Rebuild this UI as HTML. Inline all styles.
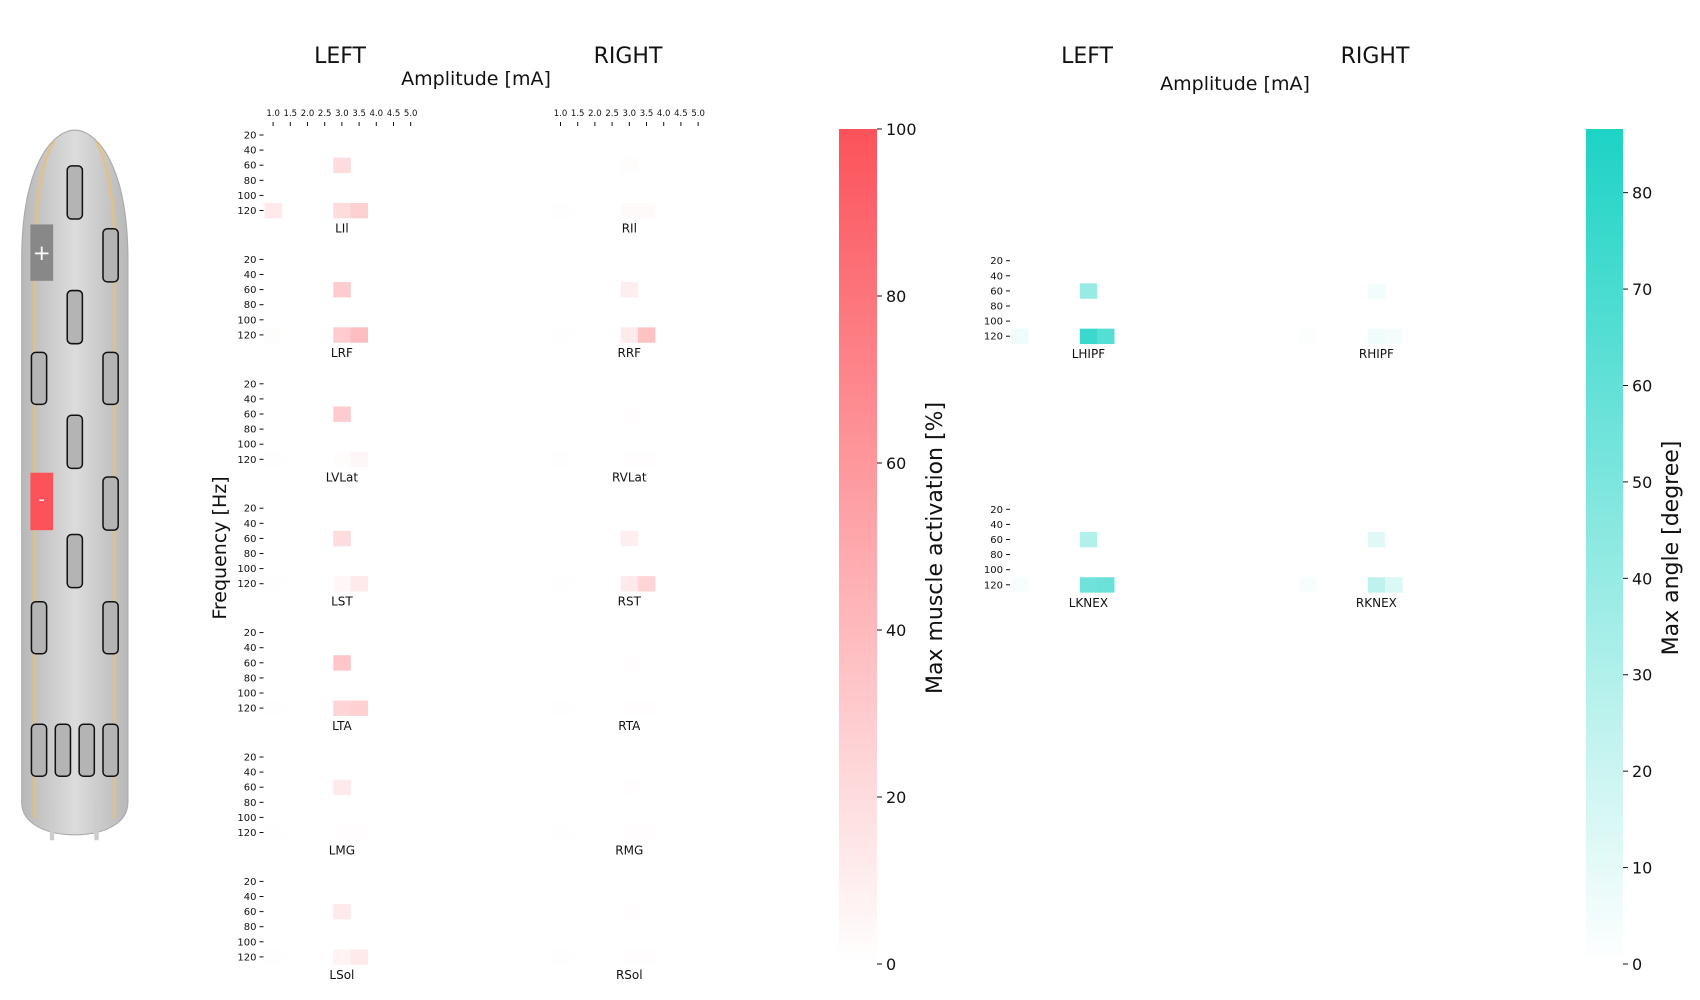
<!DOCTYPE html>
<html><head><meta charset="utf-8"><style>
html,body{margin:0;padding:0;background:#fff;}
svg{display:block;font-family:"DejaVu Sans","Liberation Sans",sans-serif;}
</style></head><body>
<svg id="fig" width="1700" height="1000" viewBox="0 0 1700 1000" xmlns="http://www.w3.org/2000/svg">
<defs>
<linearGradient id="gRed" x1="0" y1="1" x2="0" y2="0"><stop offset="0" stop-color="#ffffff"/><stop offset="1" stop-color="#fc525a"/></linearGradient>
<linearGradient id="gTeal" x1="0" y1="1" x2="0" y2="0"><stop offset="0" stop-color="#ffffff"/><stop offset="1" stop-color="#1dd3c5"/></linearGradient>
<linearGradient id="gBody" x1="0" y1="0" x2="1" y2="0"><stop offset="0" stop-color="#b8b8b8"/><stop offset="0.5" stop-color="#dcdcdc"/><stop offset="1" stop-color="#b8b8b8"/></linearGradient>
</defs>
<g id="electrode" transform="scale(1.0842)">
  <path d="M20,240 C20,150 50,120 69,120 C88,120 118,150 118,240 L118,740 C118,760 95,770 69,770 C43,770 20,760 20,740 Z" fill="url(#gBody)" stroke="#aaa"/>
  <path d="M32,240 C32,180 40,145 50,130" stroke="#e8c07a" stroke-width="2" fill="none"/>
  <path d="M32,240 L32,755" stroke="#e8c07a" stroke-width="1.5" fill="none"/>
  <path d="M106,240 C106,180 98,145 88,130" stroke="#e8c07a" stroke-width="2" fill="none"/>
  <path d="M106,240 L106,755" stroke="#e8c07a" stroke-width="1.5" fill="none"/>
  <rect x="46" y="740" width="4" height="35" fill="#ccc"/><rect x="87" y="740" width="4" height="35" fill="#ccc"/>
  <g fill="#b4b4b4" stroke="#111" stroke-width="1.4">
    <rect x="62" y="153" width="14" height="49" rx="4"/><rect x="62" y="268" width="14" height="49" rx="4"/>
    <rect x="62" y="383" width="14" height="49" rx="4"/><rect x="62" y="493" width="14" height="49" rx="4"/>
    <rect x="29" y="325" width="14" height="48" rx="4"/><rect x="29" y="555" width="14" height="48" rx="4"/>
    <rect x="29" y="668" width="14" height="48" rx="4"/><rect x="51" y="668" width="14" height="48" rx="4"/>
    <rect x="73" y="668" width="14" height="48" rx="4"/><rect x="95" y="668" width="14" height="48" rx="4"/>
    <rect x="95" y="211" width="14" height="49" rx="4"/><rect x="95" y="325" width="14" height="48" rx="4"/>
    <rect x="95" y="440" width="14" height="49" rx="4"/><rect x="95" y="555" width="14" height="48" rx="4"/>
  </g>
  <rect x="28" y="207" width="21" height="52" fill="#888"/>
  <text x="38.5" y="240" fill="#fff" font-size="20" text-anchor="middle">+</text>
  <rect x="28" y="436" width="21" height="53" fill="#fc525a"/>
  <text x="38.5" y="466" fill="#fff" font-size="16" text-anchor="middle">-</text>
</g>
<g id="texts" font-size="22" fill="#111">
  <text x="340" y="63" text-anchor="middle">LEFT</text>
  <text x="628" y="63" text-anchor="middle">RIGHT</text>
  <text x="476" y="85" text-anchor="middle" font-size="19">Amplitude [mA]</text>
  <text x="1087" y="63" text-anchor="middle">LEFT</text>
  <text x="1375" y="63" text-anchor="middle">RIGHT</text>
  <text x="1235" y="90" text-anchor="middle" font-size="19">Amplitude [mA]</text>
  <text transform="translate(226,548) rotate(-90)" text-anchor="middle" font-size="19">Frequency [Hz]</text>
  <text transform="translate(942,548) rotate(-90)" text-anchor="middle" font-size="22">Max muscle activation [%]</text>
  <text transform="translate(1678,548) rotate(-90)" text-anchor="middle" font-size="22">Max angle [degree]</text>
</g>
<g id="charts"></g>
</svg>
<script>
// ---- data ----
const amplitudes = ["1.0","1.5","2.0","2.5","3.0","3.5","4.0","4.5","5.0"];
const frequencies = ["20","40","60","80","100","120"];
const muscleNamesLeft = ["LIl","LRF","LVLat","LST","LTA","LMG","LSol"];
const muscleNamesRight = ["RIl","RRF","RVLat","RST","RTA","RMG","RSol"];
// values: [freqIdx, ampIdx, value]
const muscleLeft = [
 [[2,4,20],[5,0,13],[5,4,20],[5,5,27]],
 [[2,4,30],[5,0,2],[5,4,30],[5,5,38]],
 [[2,4,30],[5,0,1],[5,4,2],[5,5,5]],
 [[2,4,20],[5,0,1],[5,4,5],[5,5,12]],
 [[2,4,33],[5,0,1],[5,4,25],[5,5,27]],
 [[2,4,12],[5,0,1],[5,4,1],[5,5,1]],
 [[2,4,12],[5,0,1],[5,4,7],[5,5,12]]
];
const muscleRight = [
 [[2,4,2],[5,0,1],[5,4,3],[5,5,3]],
 [[2,4,10],[5,0,1],[5,4,12],[5,5,35]],
 [[2,4,1],[5,0,0.5],[5,4,1],[5,5,1]],
 [[2,4,10],[5,0,1],[5,4,12],[5,5,25]],
 [[2,4,1],[5,0,1],[5,4,1],[5,5,1]],
 [[2,4,1],[5,0,1],[5,4,1],[5,5,1]],
 [[2,4,1],[5,0,1],[5,4,1],[5,5,1]]
];
const jointNamesLeft = ["LHIPF","LKNEX"];
const jointNamesRight = ["RHIPF","RKNEX"];
const angleLeft = [
 [[2,4,40],[5,0,6],[5,4,75],[5,5,65]],
 [[2,4,30],[5,0,3],[5,4,55],[5,5,57]]
];
const angleRight = [
 [[2,4,5],[5,0,1],[5,4,6],[5,5,4]],
 [[2,4,12],[5,0,3],[5,4,25],[5,5,14]]
];
const muscleTicks = [0,20,40,60,80,100];
const angleTicks = [0,10,20,30,40,50,60,70,80];
const angleMax = 86.6;

// ---- drawing ----
const NS = "http://www.w3.org/2000/svg";
const root = document.getElementById('charts');
function mk(tag, attrs, parent){const e=document.createElementNS(NS,tag);for(const k in attrs)e.setAttribute(k,attrs[k]);(parent||root).appendChild(e);return e;}
function mix(c, t){return `rgb(${Math.round(255+(c[0]-255)*t)},${Math.round(255+(c[1]-255)*t)},${Math.round(255+(c[2]-255)*t)})`;}
const RED=[252,82,90], TEAL=[29,211,197];
const CW=17.2, CH=15.1;
function xCell(x0,i){return x0+i*CW;}
function yRow(y20,j){return y20+j*CH;}

function heatmap(x0,y20,cells,name,color,vmax,yLabels,panelName){
  const g=mk('g',{});
  
  
  cells.forEach(c=>{
    const r=mk('rect',{x:xCell(x0,c[1]),y:yRow(y20,c[0])-CH/2,width:CW+0.3,height:CH+0.3,fill:mix(color,Math.min(1,c[2]/vmax))},g);
    
    
  });
  if(yLabels){
    frequencies.forEach((f,j)=>{
      const y=yRow(y20,j);
      mk('line',{x1:x0-5,x2:x0-1,y1:y,y2:y,stroke:'#111','stroke-width':1},g);
      const t=mk('text',{x:x0-8,y:y+3.5,'font-size':10,'text-anchor':'end',fill:'#111'},g);
      t.textContent=f;
      
      
    });
  }
  const lt=mk('text',{x:xCell(x0,4)+CW/2,y:yRow(y20,5)+22,'font-size':12,'text-anchor':'middle',fill:'#111'},g);
  lt.textContent=name;
  
  
}
function xTicks(x0){
  amplitudes.forEach((a,i)=>{
    const x=xCell(x0,i)+CW/2;
    mk('line',{x1:x,x2:x,y1:122,y2:126,stroke:'#111','stroke-width':1});
    const t=mk('text',{x:x,y:116,'font-size':8.5,'text-anchor':'middle',fill:'#111'});
    t.textContent=a;
    
    
  });
}
const mxL=264.5, mxR=551.9, my0=135, mdy=124.4;
xTicks(mxL); xTicks(mxR);
muscleNamesLeft.forEach((n,p)=>heatmap(mxL,my0+p*mdy,muscleLeft[p],n,RED,100,true,'heatmap-'+n.toLowerCase()));
muscleNamesRight.forEach((n,p)=>heatmap(mxR,my0+p*mdy,muscleRight[p],n,RED,100,false,'heatmap-'+n.toLowerCase()));
const axL=1011, axR=1299, ay0=260.7, ady=248.6;
jointNamesLeft.forEach((n,p)=>heatmap(axL,ay0+p*ady,angleLeft[p],n,TEAL,angleMax,true,'heatmap-'+n.toLowerCase()));
jointNamesRight.forEach((n,p)=>heatmap(axR,ay0+p*ady,angleRight[p],n,TEAL,angleMax,false,'heatmap-'+n.toLowerCase()));

function colorbar(x,w,top,bot,vmax,ticks,grad,name){
  const g=mk('g',{});
  
  
  mk('rect',{x:x,y:top,width:w,height:bot-top,fill:grad},g);
  ticks.forEach(v=>{
    const y=bot-(bot-top)*v/vmax;
    mk('line',{x1:x+w,x2:x+w+5,y1:y,y2:y,stroke:'#111','stroke-width':1},g);
    const t=mk('text',{x:x+w+9,y:y+6,'font-size':16,fill:'#111'},g);
    t.textContent=v;
    
    
  });
}
colorbar(839,38,129,964,100,muscleTicks,'url(#gRed)','colorbar-muscle');
colorbar(1586,37,129,964,angleMax,angleTicks,'url(#gTeal)','colorbar-angle');
</script>
</body></html>
